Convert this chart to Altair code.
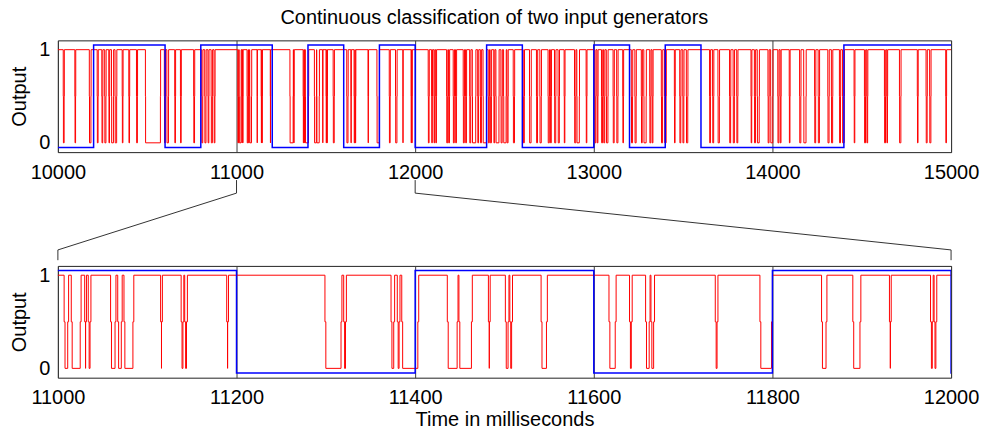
import altair as alt
import pandas as pd

# ---------------- data ----------------
x_range = [10000, 15000]
zoom_range = [11000, 12000]
top_ticks = [10000, 11000, 12000, 13000, 14000, 15000]
bottom_ticks = [11000, 11200, 11400, 11600, 11800, 12000]

# blue: true generator (class 1 / class 0), step changes at these times
blue_time = [10000, 10200, 10600, 10800, 11200, 11400, 11600, 11800, 12000,
             12400, 12600, 13000, 13200, 13400, 13600, 14400, 15000]
blue_class = [0, 1, 0, 1, 0, 1, 0, 1, 0, 1, 0, 1, 0, 1, 0, 1, 1]

# red: classifier output, 1 except during these dips (start, end) to 0
dips_10 = [(10030, 10036), (10095, 10100), (10176, 10186), (10220, 10226),
           (10246, 10252), (10262, 10270), (10285, 10290), (10300, 10312),
           (10320, 10330), (10360, 10365), (10397, 10402), (10440, 10446),
           (10490, 10575), (10596, 10602), (10610, 10620), (10654, 10659),
           (10686, 10691), (10760, 10766), (10805, 10812), (10822, 10830),
           (10840, 10846), (10858, 10866), (10874, 10880)]
dips_11 = [(11007, 11012), (11015, 11026), (11030, 11032), (11034, 11037),
           (11059, 11065), (11067, 11072), (11074, 11085), (11115, 11117),
           (11138, 11141), (11142, 11145), (11189, 11191), (11299, 11318),
           (11320, 11323), (11373, 11377), (11380, 11383), (11385, 11404),
           (11436, 11448), (11449, 11464), (11482, 11484), (11501, 11505),
           (11506, 11509), (11541, 11548), (11617, 11625), (11640, 11643),
           (11658, 11663), (11664, 11668), (11736, 11739), (11786, 11800),
           (11855, 11861), (11890, 11899), (11931, 11933), (11977, 11980),
           (11981, 11984)]
dips_12 = [(12073, 12079), (12092, 12097), (12105, 12110), (12115, 12120),
           (12176, 12183), (12187, 12193), (12213, 12220), (12226, 12232),
           (12269, 12276), (12282, 12288), (12305, 12312), (12320, 12340),
           (12350, 12356), (12365, 12372), (12380, 12400), (12409, 12416),
           (12420, 12428), (12440, 12446), (12452, 12470), (12480, 12488),
           (12495, 12510), (12514, 12521), (12549, 12557), (12605, 12612),
           (12640, 12650), (12679, 12686), (12698, 12707), (12744, 12752),
           (12757, 12763), (12780, 12788), (12800, 12808), (12834, 12839),
           (12892, 12900), (12905, 12920), (12957, 12962)]
dips_13 = [(13005, 13012), (13018, 13024), (13043, 13050), (13055, 13062),
           (13070, 13080), (13108, 13115), (13128, 13136), (13162, 13167),
           (13210, 13218), (13230, 13238), (13266, 13272), (13280, 13294),
           (13313, 13320), (13326, 13332), (13378, 13386), (13396, 13406),
           (13451, 13456), (13481, 13488), (13498, 13505), (13518, 13527),
           (13648, 13654), (13665, 13672), (13695, 13704), (13760, 13767),
           (13780, 13788), (13800, 13807), (13880, 13885), (13899, 13906),
           (13915, 13927), (13975, 13982), (13990, 14003)]
dips_14 = [(14030, 14037), (14043, 14049), (14094, 14099), (14152, 14160),
           (14175, 14189), (14236, 14243), (14256, 14264), (14310, 14318),
           (14330, 14338), (14375, 14382), (14392, 14403), (14457, 14462),
           (14515, 14522), (14528, 14534), (14627, 14634), (14640, 14645),
           (14711, 14720), (14811, 14816), (14860, 14867), (14880, 14888),
           (14970, 14975)]
shoulder_ms = 1  # brief 0.5 output at each transition

# ---------------- tables ----------------
dips = dips_10 + dips_11 + dips_12 + dips_13 + dips_14
red_rows = [(x_range[0], 1.0)]
for s, e in dips:
    red_rows += [(s, 0.5), (s + shoulder_ms, 0.0), (e - shoulder_ms, 0.5), (e, 1.0)]
red_rows.append((x_range[1], 1.0))
red_df = pd.DataFrame(red_rows, columns=["t", "v"])
red_df["i"] = range(len(red_df))

blue_df = pd.DataFrame({"t": blue_time, "c": blue_class})
blue_df["v"] = blue_df["c"] * 1.1 - 0.05
blue_df["i"] = range(len(blue_df))

# zoom connector (top-panel data coordinates)
conn_df = pd.DataFrame({
    "t": [zoom_range[0], zoom_range[0], x_range[0], x_range[0],
          zoom_range[1], zoom_range[1], x_range[1], x_range[1]],
    "v": [-0.40, -0.54, -1.15, -1.26, -0.40, -0.54, -1.15, -1.26],
    "g": [0, 0, 0, 0, 1, 1, 1, 1],
    "i": [0, 1, 2, 3, 0, 1, 2, 3],
})

FONT = "Liberation Sans"
W, H = 895, 112
yscale = alt.Scale(domain=[-0.1, 1.1], nice=False, zero=False)


def panel(domain, ticks, xtitle, extra=None):
    xscale = alt.Scale(domain=domain, nice=False, zero=False)
    xaxis = alt.Axis(values=ticks, format="d", grid=True, gridColor="#3a3a3a",
                     gridOpacity=1, gridWidth=1, ticks=False, domain=False,
                     labelFont=FONT, labelFontSize=20, labelColor="black",
                     labelPadding=10, labelFlush=False, labelOverlap=False,
                     title=xtitle, titleFont=FONT, titleFontSize=20,
                     titleFontWeight="normal", titleColor="black", titlePadding=2)
    yaxis = alt.Axis(values=[0, 1], format="d", grid=False, ticks=False,
                     domain=False, labelFont=FONT, labelFontSize=20,
                     labelColor="black", labelPadding=8, title="Output",
                     titleFont=FONT, titleFontSize=20, titleFontWeight="normal",
                     titleColor="black", titlePadding=9)
    red = alt.Chart(red_df).mark_line(
        color="#ff0000", strokeWidth=1, interpolate="step-after", clip=True
    ).encode(
        x=alt.X("t:Q", scale=xscale, axis=xaxis),
        y=alt.Y("v:Q", scale=yscale, axis=yaxis),
        order="i:Q",
    )
    blue = alt.Chart(blue_df).mark_line(
        color="#0000ff", strokeWidth=1.5, interpolate="step-after", clip=True
    ).encode(
        x=alt.X("t:Q", scale=xscale, axis=xaxis),
        y=alt.Y("v:Q", scale=yscale, axis=yaxis),
        order="i:Q",
    )
    layers = [red, blue]
    if extra is not None:
        layers.append(extra(xscale))
    return alt.layer(*layers).properties(width=W, height=H)


def connectors(xscale):
    return alt.Chart(conn_df).mark_line(
        color="#333333", strokeWidth=1, clip=False
    ).encode(
        x=alt.X("t:Q", scale=xscale),
        y=alt.Y("v:Q", scale=yscale),
        detail="g:N",
        order="i:Q",
    )


top = panel(x_range, top_ticks, None, extra=connectors)
bottom = panel(zoom_range, bottom_ticks, "Time in milliseconds")

chart = alt.vconcat(top, bottom, spacing=114, bounds="flush").properties(
    title=alt.TitleParams(
        "Continuous classification of two input generators",
        font=FONT, fontSize=20, fontWeight="normal", color="black",
        anchor="middle", offset=11,
    ),
    padding={"left": 9, "top": 7, "right": 5, "bottom": 5},
    background="white",
).configure_view(stroke="#222222", strokeWidth=1)

chart.save("out.html", embed_options={"renderer": "svg", "actions": False})
